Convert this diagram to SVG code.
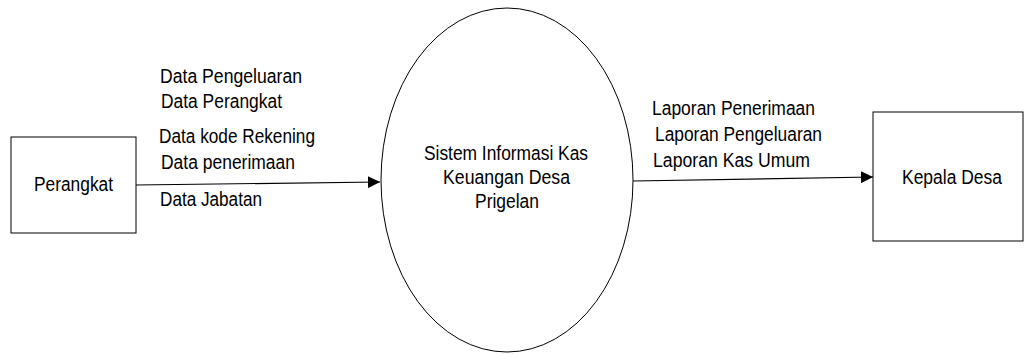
<svg xmlns="http://www.w3.org/2000/svg" width="1024" height="354" viewBox="0 0 1024 354">
  <defs>
    <style>
      .node { fill: #ffffff; stroke: #000000; stroke-width: 1; }
      .edge { fill: none; stroke: #000000; stroke-width: 1.2; }
      text { font-family: "Liberation Sans", Arial, sans-serif; font-size: 20px; fill: #000000; }
    </style>
    <marker id="arrow" viewBox="0 0 12 12" refX="12" refY="6" markerWidth="12" markerHeight="12" markerUnits="userSpaceOnUse" orient="auto">
      <path d="M0,0 L12,6 L0,12 Z" fill="#000000"/>
    </marker>
  </defs>
  <rect width="1024" height="354" fill="#ffffff"/>

  <g id="connectors">
    <line class="edge" x1="136" y1="185" x2="380" y2="182" marker-end="url(#arrow)"/>
    <line class="edge" x1="633" y1="181" x2="873" y2="177" marker-end="url(#arrow)"/>
    <text x="160" y="83" textLength="142" lengthAdjust="spacingAndGlyphs">Data Pengeluaran</text>
    <text x="161" y="108" textLength="121" lengthAdjust="spacingAndGlyphs">Data Perangkat</text>
    <text x="159" y="143" textLength="156" lengthAdjust="spacingAndGlyphs">Data kode Rekening</text>
    <text x="161" y="169" textLength="134" lengthAdjust="spacingAndGlyphs">Data penerimaan</text>
    <text x="160" y="206" textLength="102" lengthAdjust="spacingAndGlyphs">Data Jabatan</text>
    <text x="652" y="115" textLength="163" lengthAdjust="spacingAndGlyphs">Laporan Penerimaan</text>
    <text x="655" y="141" textLength="167" lengthAdjust="spacingAndGlyphs">Laporan Pengeluaran</text>
    <text x="653" y="167" textLength="157" lengthAdjust="spacingAndGlyphs">Laporan Kas Umum</text>
  </g>

  <g id="perangkat">
    <rect class="node" x="11" y="137" width="125" height="96"/>
    <text x="34" y="191" textLength="79" lengthAdjust="spacingAndGlyphs">Perangkat</text>
  </g>

  <g id="sistem">
    <ellipse class="node" cx="507" cy="180" rx="126" ry="172"/>
    <text x="424" y="160" textLength="164" lengthAdjust="spacingAndGlyphs">Sistem Informasi Kas</text>
    <text x="443" y="184" textLength="127" lengthAdjust="spacingAndGlyphs">Keuangan Desa</text>
    <text x="475" y="208" textLength="64" lengthAdjust="spacingAndGlyphs">Prigelan</text>
  </g>

  <g id="kepala-desa">
    <rect class="node" x="873" y="112" width="150" height="129"/>
    <text x="902" y="184" textLength="100" lengthAdjust="spacingAndGlyphs">Kepala Desa</text>
  </g>
</svg>
